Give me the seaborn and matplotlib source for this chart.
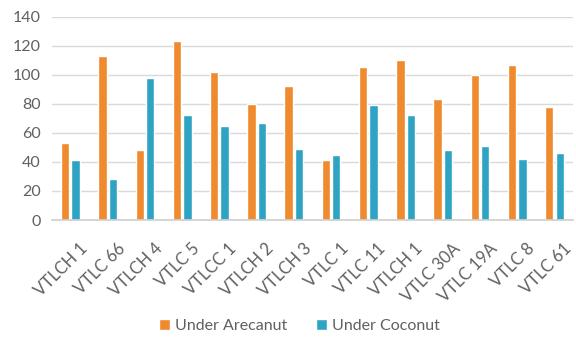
import matplotlib
matplotlib.use("Agg")
import matplotlib.pyplot as plt
import matplotlib.transforms as mtransforms
import seaborn as sns
import pandas as pd

categories = ["VTLCH 1", "VTLC 66", "VTLCH 4", "VTLC 5", "VTLCC 1", "VTLCH 2", "VTLCH 3",
              "VTLC 1", "VTLC 11", "VTLCH 1", "VTLC 30A", "VTLC 19A", "VTLC 8", "VTLC 61"]
arecanut = [53, 113, 48, 123, 102, 80, 92, 41, 105, 110, 83, 100, 107, 78]
coconut = [41, 28, 98, 72, 65, 67, 49, 45, 79, 72, 48, 51, 42, 46]
series = ["Under Arecanut", "Under Coconut"]
yticks = [0, 20, 40, 60, 80, 100, 120, 140]

keys = [f"{i}" for i in range(len(categories))]
df = pd.DataFrame({
    "key": keys * 2,
    "value": arecanut + coconut,
    "series": [series[0]] * len(keys) + [series[1]] * len(keys),
})

sns.set_theme(style="white")
plt.rcParams["font.family"] = ["Lato", "DejaVu Sans"]

fig = plt.figure(figsize=(5.76, 3.38), dpi=100)
ax = fig.add_axes([0.09, 0.349, 0.905, 0.602])

palette = {series[0]: "#F08A2E", series[1]: "#2FA3C4"}
sns.barplot(data=df, x="key", y="value", hue="series", order=keys, hue_order=series,
            palette=palette, width=0.56, gap=0.2, saturation=1, ax=ax, legend=True)

ax.set_ylim(0, 140)
ax.set_yticks(yticks)
ax.yaxis.grid(True, color="#D9D9D9", linewidth=1)
ax.set_axisbelow(True)
ax.set_xlim(-0.5, len(keys) - 0.5)
for s in ["top", "left", "right"]:
    ax.spines[s].set_visible(False)
ax.spines["bottom"].set_color("#D0D0D0")
ax.set_xlabel("")
ax.set_ylabel("")
txtc = "#606060"
ax.set_xticks(range(len(keys)))
ax.set_xticklabels(categories, rotation=45, ha="right", rotation_mode="anchor",
                   fontsize=12, color=txtc)
ax.tick_params(axis="y", labelsize=11.5, colors=txtc, length=0, pad=8)
ax.tick_params(axis="x", length=0, pad=8)
offset = mtransforms.ScaledTranslation(9 / 100, -9 / 100, fig.dpi_scale_trans)
for lbl in ax.get_xticklabels():
    lbl.set_transform(lbl.get_transform() + offset)

handles, labels = ax.get_legend_handles_labels()
ax.get_legend().remove()
fig.legend(handles, labels, loc="center", bbox_to_anchor=(0.52, 0.035), ncol=2,
           frameon=False, fontsize=11.5, labelcolor=txtc, handlelength=0.7,
           handleheight=0.7, handletextpad=0.3, columnspacing=1.8)

fig.savefig("out.png", dpi=100)
